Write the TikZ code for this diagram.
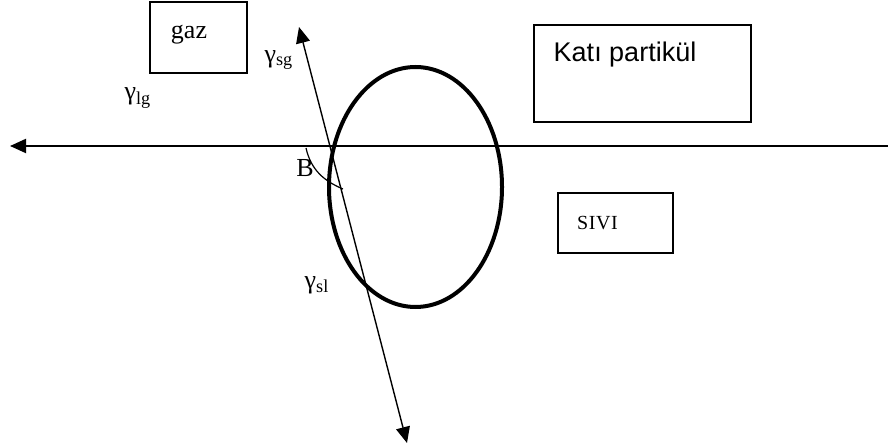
\documentclass[tikz,border=0pt]{standalone}
\usepackage{fontspec}
\setmainfont{Liberation Serif}
\newfontfamily\sansfnt{Liberation Sans}
\usetikzlibrary{arrows.meta}

\begin{document}
\begin{tikzpicture}[
  x=0.5pt, y=-0.5pt,
  font=\fontsize{13}{15}\selectfont,
  box/.style     = {draw, line width=0.75pt, inner sep=0pt},
  lbl/.style     = {inner sep=0pt},
  tip/.style     = {-{Triangle[length=8pt,width=7pt]}},
  surface/.style = {tip, line width=1pt},
  force/.style   = {{Triangle[length=8pt,width=7pt]}-{Triangle[length=8pt,width=7pt]}, line width=0.7pt},
  drop/.style    = {line width=2pt},
]
\useasboundingbox (0,0) rectangle (888,448);

% =============================================================
% Boxes -- gas, solid particle, liquid
% =============================================================
\node[box, minimum width=48.5pt, minimum height=35.5pt] (gazbox)  at (198.5,37.5) {};
\node[lbl, anchor=base] (gaztext) at (189,39) {gaz};

\node[box, minimum width=108.5pt, minimum height=48.5pt] (katibox) at (642.5,73.5) {};
\node[lbl, anchor=base, font=\sansfnt\fontsize{13.5}{16}\selectfont] (katitext) at (625,62) {Katı partikül};

\node[box, minimum width=57.5pt, minimum height=30pt] (sivibox) at (615.5,223) {};
\node[lbl, anchor=base, font=\fontsize{10}{12}\selectfont] (sivitext) at (597.5,230) {S\kern0.3pt I\kern0.3pt V\kern0.3pt I};

% =============================================================
% Liquid surface and particle
% =============================================================
\coordinate (lineright) at (888,146);
\coordinate (lineleft)  at (10,146);
\draw[surface] (lineright) -- (lineleft);

\coordinate (drop) at (415.5,187);
\draw[drop] (drop) ellipse [x radius=86.5, y radius=120];

% tension line through the contact point, and the angle mark
\coordinate (sgtip) at (299,27);
\coordinate (sltip) at (407,443);
\draw[force] (sgtip) -- (sltip);
\draw[line width=0.6pt] (306,148) .. controls (311,170) and (324,181) .. (343,189);

% =============================================================
% Labels
% =============================================================
\node[lbl] (sglabel) at (279,60)  {γ\textsubscript{sg}};
\node[lbl] (lglabel) at (138,98)  {γ\textsubscript{lg}};
\node[lbl, anchor=base] (blabel) at (305,177) {B};
\node[lbl] (sllabel) at (317,285) {γ\textsubscript{sl}};

\end{tikzpicture}
\end{document}
